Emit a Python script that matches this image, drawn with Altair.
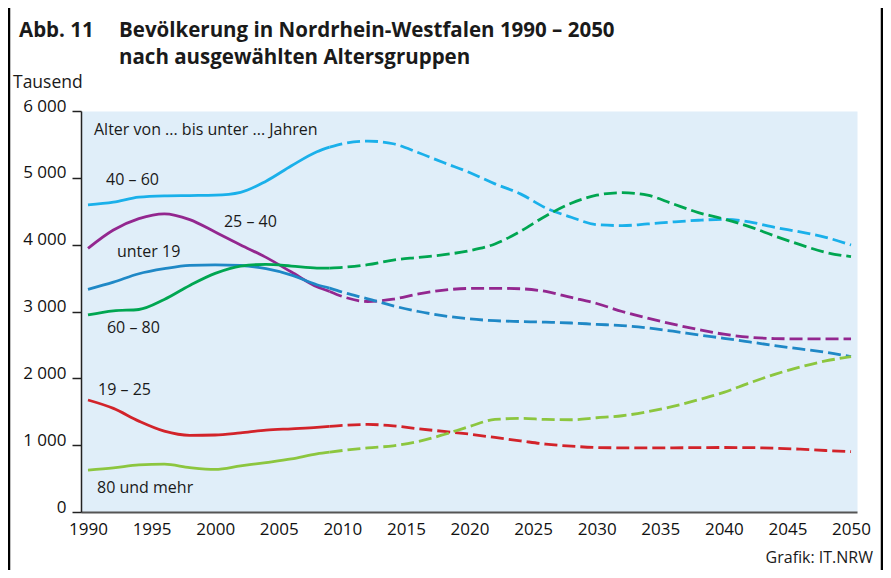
import altair as alt
import pandas as pd

years = [1990, 1992, 1994, 1996, 1998, 2000, 2002, 2004, 2006, 2008, 2009, 2010,
         2012, 2014, 2016, 2018, 2020, 2022, 2024, 2026, 2028, 2030, 2032, 2034,
         2036, 2038, 2040, 2042, 2044, 2046, 2048, 2050]

groups = ["40 – 60", "25 – 40", "unter 19", "60 – 80", "19 – 25", "80 und mehr"]

age_40_60 = [4594, 4635, 4710, 4730, 4735, 4740, 4783, 4950, 5180, 5390, 5460, 5510,
             5550, 5510, 5375, 5225, 5080, 4910, 4760, 4550, 4410, 4300, 4285, 4310,
             4340, 4365, 4379, 4340, 4260, 4190, 4110, 3995]
age_25_40 = [3946, 4220, 4390, 4462, 4375, 4190, 3995, 3810, 3590, 3370, 3300, 3225,
             3150, 3185, 3265, 3320, 3345, 3347, 3340, 3300, 3210, 3120, 3000, 2900,
             2810, 2730, 2660, 2615, 2595, 2590, 2589, 2589]
age_u19 = [3332, 3440, 3565, 3640, 3690, 3698, 3688, 3640, 3545, 3400, 3350, 3290,
           3190, 3085, 3000, 2935, 2890, 2862, 2850, 2840, 2828, 2808, 2790, 2755,
           2705, 2650, 2599, 2545, 2490, 2440, 2390, 2324]
age_60_80 = [2948, 3010, 3030, 3180, 3390, 3570, 3680, 3705, 3680, 3650, 3648, 3660,
             3700, 3770, 3810, 3850, 3910, 4010, 4200, 4430, 4620, 4740, 4778, 4740,
             4610, 4480, 4384, 4270, 4130, 4000, 3885, 3821]
age_19_25 = [1676, 1550, 1360, 1210, 1148, 1152, 1185, 1225, 1245, 1265, 1280, 1295,
             1310, 1290, 1245, 1205, 1165, 1115, 1065, 1015, 985, 965, 960, 958,
             960, 963, 965, 963, 955, 940, 920, 903]
age_80plus = [628, 660, 705, 715, 665, 638, 690, 740, 795, 870, 895, 920,
              960, 990, 1055, 1160, 1280, 1385, 1400, 1385, 1380, 1410, 1440, 1500,
              1580, 1680, 1790, 1930, 2060, 2170, 2260, 2324]

colors = ["#1ab0ea", "#93278f", "#1f88c6", "#00a651", "#d2232a", "#8cc63f"]

label_texts = ["Alter von ... bis unter ... Jahren", "40 – 60", "25 – 40", "unter 19",
               "60 – 80", "19 – 25", "80 und mehr"]
label_years = [1990.47, 1991.42, 2000.69, 1992.28, 1991.49, 1990.79, 1990.71]
label_values = [5716, 4968, 4339, 3890, 2753, 1825, 359]

series = [age_40_60, age_25_40, age_u19, age_60_80, age_19_25, age_80plus]
rows = []
for g, vals in zip(groups, series):
    for yr, v in zip(years, vals):
        rows.append({"group": g, "year": yr, "value": v})
df = pd.DataFrame(rows)
lab_df = pd.DataFrame({"label": label_texts, "year": label_years, "value": label_values})

FONT = "Open Sans"

x_enc = alt.X("year:Q",
              scale=alt.Scale(domain=[1989.45, 2050.47], nice=False, zero=False),
              axis=alt.Axis(values=list(range(1990, 2051, 5)), format="d", title=None,
                            ticks=False, grid=False, labelFontSize=17, labelFont=FONT,
                            labelColor="#111", labelPadding=9, domainColor="#555",
                            domainWidth=2, labelFlush=False))
y_enc = alt.Y("value:Q",
              scale=alt.Scale(domain=[0, 6000], nice=False),
              axis=alt.Axis(values=list(range(0, 6001, 1000)), title=None, grid=False,
                            labelExpr="replace(format(datum.value, ','), ',', ' ')",
                            labelFontSize=17, labelFont=FONT, labelColor="#111",
                            labelBaseline="alphabetic", labelPadding=6, tickSize=9,
                            tickWidth=1.5, tickColor="#222", domainColor="#222",
                            domainWidth=1.5))
c_enc = alt.Color("group:N", scale=alt.Scale(domain=groups, range=colors), legend=None)

base = alt.Chart(df)
solid = base.transform_filter(alt.datum.year <= 2009).mark_line(
    interpolate="monotone", strokeWidth=2.8).encode(x=x_enc, y=y_enc, color=c_enc, detail="group:N")
dashed = base.transform_filter(alt.datum.year >= 2009).mark_line(
    interpolate="monotone", strokeWidth=2.8, strokeDash=[13, 5]).encode(
    x=x_enc, y=y_enc, color=c_enc, detail="group:N")

labels = alt.Chart(lab_df).mark_text(align="left", baseline="middle", fontSize=16,
                                     font=FONT, color="#1a1a1a").encode(
    x="year:Q", y="value:Q", text="label:N")

one = pd.DataFrame({"a": [0]})


def txt(s, px, py, size, weight="normal", align="left"):
    return alt.Chart(one).mark_text(align=align, baseline="alphabetic", fontSize=size,
                                    font=FONT, fontWeight=weight, color="#1a1a1a",
                                    text=s).encode(x=alt.value(px - 81), y=alt.value(py - 111))


t1 = txt("Abb. 11", 19, 37, 20.5, "bold")
t2 = txt("Bevölkerung in Nordrhein-Westfalen 1990 – 2050", 119, 37, 20.5, "bold")
t3 = txt("nach ausgewählten Altersgruppen", 119, 64, 20.5, "bold")
t4 = txt("Tausend", 13, 88, 17.5)
t5 = txt("Grafik: IT.NRW", 873, 563, 16, align="right")

border_l = alt.Chart(one).mark_rule(color="#000", strokeWidth=2.5).encode(
    x=alt.value(9 - 81), y=alt.value(-103), y2=alt.value(459))
border_r = alt.Chart(one).mark_rule(color="#000", strokeWidth=2.5).encode(
    x=alt.value(882 - 81), y=alt.value(-103), y2=alt.value(459))

chart = alt.layer(solid, dashed, labels, t1, t2, t3, t4, t5, border_l, border_r).properties(
    width=776, height=401,
    autosize=alt.AutoSizeParams(type="none"),
    padding={"left": 73, "top": 103, "right": 26, "bottom": 58},
    background="white",
).configure_view(fill="#e0eef9", stroke="transparent")

chart.save("out.html", embed_options={"renderer": "svg", "actions": False})
